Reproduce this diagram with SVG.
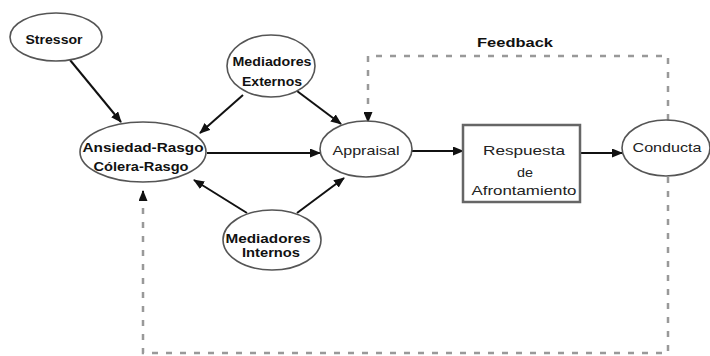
<svg xmlns="http://www.w3.org/2000/svg" width="710" height="356" viewBox="0 0 710 356">
<defs>
<marker id="arr" markerUnits="userSpaceOnUse" markerWidth="11" markerHeight="9" refX="10" refY="4.5" orient="auto">
<path d="M0,0 L11,4.5 L0,9 z" fill="#111"/>
</marker>
<style>
.node ellipse{fill:#fff;stroke:#555;stroke-width:1.6}
.node rect{fill:#fff;stroke:#666;stroke-width:2.5}
text{font-family:"Liberation Sans",Arial,sans-serif;font-size:13px;text-anchor:middle;fill:#222}
.b{font-weight:bold;fill:#111}
.conn line{stroke:#111;stroke-width:2;marker-end:url(#arr)}
.fb{fill:none;stroke:#999;stroke-width:2.5;stroke-dasharray:6 8}
.fbh{fill:none;stroke:#777;stroke-width:0;marker-end:url(#arr)}
</style>
</defs>
<rect width="710" height="356" fill="#fff"/>
<g class="conn">
<line x1="70" y1="60" x2="121" y2="122"/>
<line x1="243" y1="95" x2="200" y2="133"/>
<line x1="297" y1="91" x2="341" y2="124"/>
<line x1="247" y1="213" x2="194" y2="180"/>
<line x1="297" y1="213" x2="344" y2="178"/>
<line x1="207" y1="153" x2="320" y2="153"/>
<line x1="412" y1="151" x2="463" y2="151"/>
<line x1="581" y1="153" x2="622" y2="153"/>
<path class="fb" d="M668,120 V56 H368 V118"/>
<line x1="368" y1="112" x2="368" y2="122"/>
<path class="fb" d="M668,177 V353 H143 V196"/>
<line x1="143" y1="200" x2="143" y2="191"/>
</g>
<text id="feedback-label" class="b" x="515" y="47" textLength="76" lengthAdjust="spacingAndGlyphs">Feedback</text>
<g id="stressor" class="node">
<ellipse cx="56" cy="37" rx="46" ry="24"/>
<text class="b" x="54" y="44" textLength="57" lengthAdjust="spacingAndGlyphs">Stressor</text>
</g>
<g id="ansiedad" class="node">
<ellipse cx="143" cy="152" rx="63" ry="30"/>
<text class="b" x="143" y="152" textLength="121" lengthAdjust="spacingAndGlyphs">Ansiedad-Rasgo</text>
<text class="b" x="141" y="171" textLength="95" lengthAdjust="spacingAndGlyphs">Cólera-Rasgo</text>
</g>
<g id="mediadores-externos" class="node">
<ellipse cx="271" cy="66" rx="44" ry="31"/>
<text class="b" x="272" y="66" textLength="79" lengthAdjust="spacingAndGlyphs">Mediadores</text>
<text class="b" x="272" y="86" textLength="60" lengthAdjust="spacingAndGlyphs">Externos</text>
</g>
<g id="mediadores-internos" class="node">
<ellipse cx="272" cy="240" rx="49" ry="30"/>
<text class="b" x="268" y="243" textLength="85" lengthAdjust="spacingAndGlyphs">Mediadores</text>
<text class="b" x="271" y="257" textLength="58" lengthAdjust="spacingAndGlyphs">Internos</text>
</g>
<g id="appraisal" class="node">
<ellipse cx="366" cy="149" rx="46" ry="28"/>
<text x="366" y="155" textLength="67" lengthAdjust="spacingAndGlyphs">Appraisal</text>
</g>
<g id="respuesta" class="node">
<rect x="463" y="125" width="117" height="77"/>
<text x="524" y="155" textLength="82" lengthAdjust="spacingAndGlyphs">Respuesta</text>
<text x="525" y="177" textLength="16" lengthAdjust="spacingAndGlyphs">de</text>
<text x="524" y="195" textLength="105" lengthAdjust="spacingAndGlyphs">Afrontamiento</text>
</g>
<g id="conducta" class="node">
<ellipse cx="666" cy="148" rx="44" ry="28"/>
<text x="667" y="152" textLength="69" lengthAdjust="spacingAndGlyphs">Conducta</text>
</g>
</svg>
